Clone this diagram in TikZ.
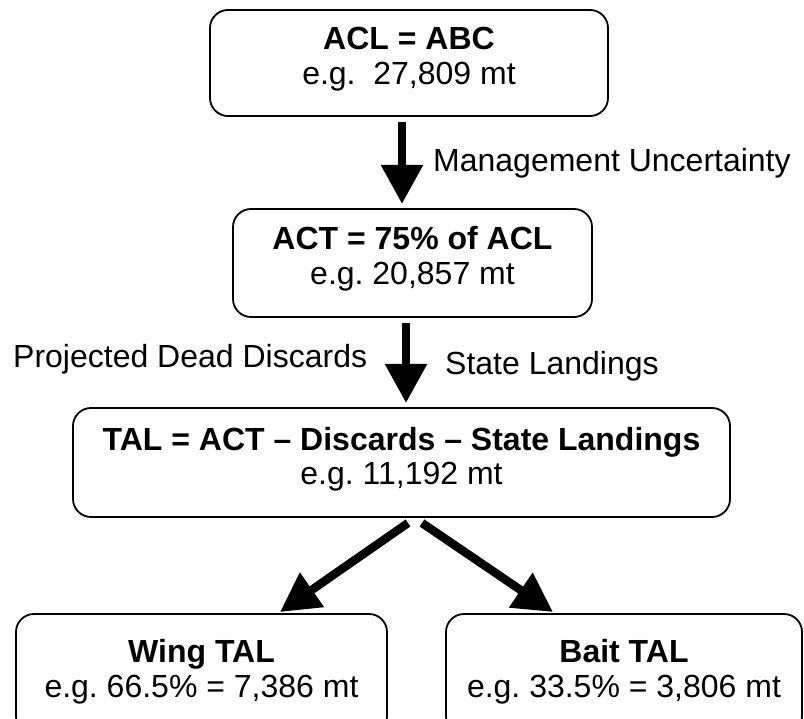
\documentclass[tikz,border=0pt]{standalone}
\usepackage{fontspec}
\setmainfont{Liberation Sans}
\usetikzlibrary{arrows.meta}
\frenchspacing
\begin{document}
\begin{tikzpicture}[x=1pt,y=-1pt,
  box/.style={draw,line width=1.8pt,rounded corners=18pt,inner sep=0pt},
  txt/.style={anchor=base,inner sep=0pt,font=\fontsize{32}{36}\selectfont},
  lbl/.style={anchor=base west,inner sep=0pt,font=\fontsize{32}{36}\selectfont},
  bigarrow/.style={line width=8.5pt,-{Triangle[width=40pt,length=39pt]}}]
\clip (0,0) rectangle (804,719);
% boxes
\node[box,minimum width=398pt,minimum height=106pt] (b1) at (409,63) {};
\node[box,minimum width=359pt,minimum height=108pt] (b2) at (412.5,263) {};
\node[box,minimum width=657pt,minimum height=109pt] (b3) at (401.5,462.5) {};
\node[box,minimum width=371pt,minimum height=120pt] (b4) at (201.5,674) {};
\node[box,minimum width=356pt,minimum height=120pt] (b5) at (624,674) {};
% box texts
\node[txt] (b1a) at (409,50) {\textbf{ACL = ABC}};
\node[txt] (b1b) at (409,85) {e.g.\ \ 27,809 mt};
\node[txt] (b2a) at (412.5,250) {\textbf{ACT = 75\% of ACL}};
\node[txt] (b2b) at (412.5,285) {e.g. 20,857 mt};
\node[txt] (b3a) at (401.5,450) {\textbf{TAL = ACT -- Discards -- State Landings}};
\node[txt] (b3b) at (401.5,485) {e.g. 11,192 mt};
\node[txt] (b4a) at (201.5,662) {\textbf{Wing TAL}};
\node[txt] (b4b) at (201.5,697) {e.g. 66.5\% = 7,386 mt};
\node[txt] (b5a) at (624,662) {\textbf{Bait TAL}};
\node[txt] (b5b) at (624,697) {e.g. 33.5\% = 3,806 mt};
% side labels
\node[lbl] (t1) at (433,172) {Management Uncertainty};
\node[lbl] (t2) at (13,368) {Projected Dead Discards};
\node[lbl] (t3) at (445,375) {State Landings};
% connectors
\coordinate (s1) at (402,122);
\coordinate (e1) at (402,204);
\coordinate (s2) at (406,323);
\coordinate (e2) at (406,403);
\coordinate (s3) at (408,523);
\coordinate (e3) at (280,612);
\coordinate (s4) at (422,523);
\coordinate (e4) at (553,612);
\draw[bigarrow] (s1) -- (e1);
\draw[bigarrow] (s2) -- (e2);
\draw[bigarrow] (s3) -- (e3);
\draw[bigarrow] (s4) -- (e4);
\end{tikzpicture}
\end{document}
